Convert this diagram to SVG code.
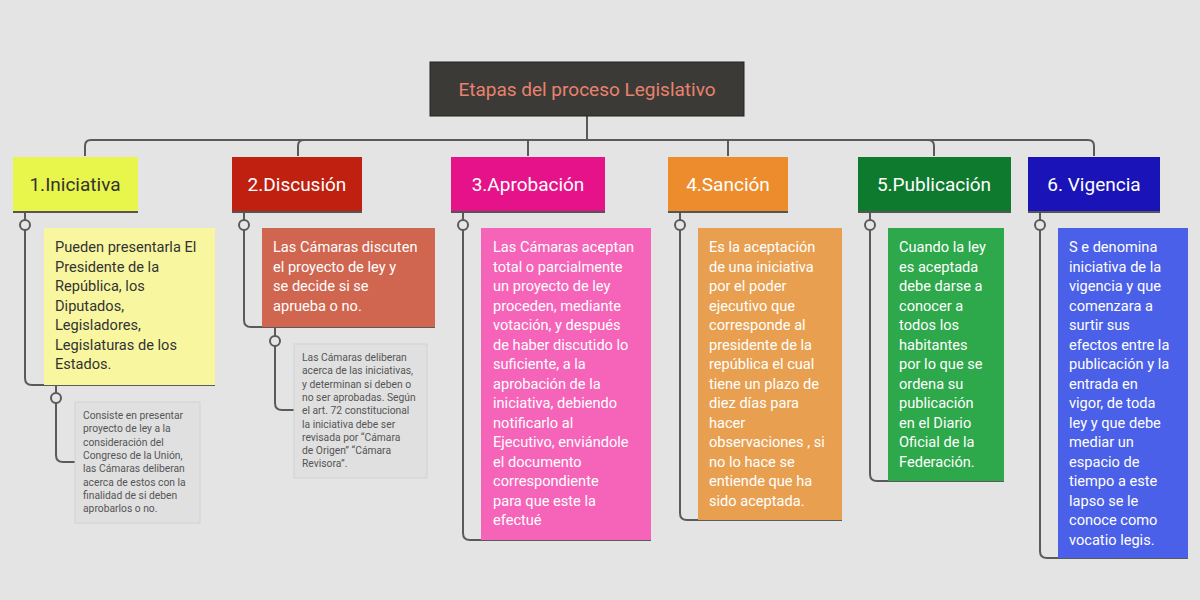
<svg xmlns="http://www.w3.org/2000/svg" width="1200" height="600" viewBox="0 0 1200 600">
<defs>
<style>
.t{font-family:Roboto,"Open Sans","Liberation Sans",sans-serif}
.h{font-size:19px}
.b{font-size:14.6px}
.s{font-size:10.3px;fill:#555}
.ln{fill:none;stroke:#5a5a5a;stroke-width:2}
.c{fill:#e6e6e6;stroke:#5a5a5a;stroke-width:2}
.sh{stroke:#555;stroke-width:2}
</style>
</defs>
<rect width="1200" height="600" fill="#e4e4e4"/>
<g id="connectors">
<path class="ln" d="M587 116V140M85 156V146Q85 140 91 140H1088Q1094 140 1094 146V156M298 156V146Q298 140 304 140M528 156V140M728 156V140M934 156V146Q934 140 928 140"/>
<path class="ln" d="M25 212V378Q25 385 32 385H215"/>
<path class="ln" d="M56 385V455Q56 462 63 462H75"/>
<path class="ln" d="M244 212V320Q244 327 251 327H435"/>
<path class="ln" d="M275 327V403Q275 410 282 410H294"/>
<path class="ln" d="M463 212V533Q463 540 470 540H651"/>
<path class="ln" d="M680 212V513Q680 520 687 520H842"/>
<path class="ln" d="M870 212V474Q870 481 877 481H1004"/>
<path class="ln" d="M1040 212V551Q1040 558 1047 558H1188"/>
<circle class="c" cx="25" cy="225" r="5"/><circle class="c" cx="56" cy="398" r="5"/>
<circle class="c" cx="244" cy="225" r="5"/><circle class="c" cx="275" cy="341" r="5"/>
<circle class="c" cx="463" cy="225" r="5"/><circle class="c" cx="680" cy="225" r="5"/>
<circle class="c" cx="870" cy="225" r="5"/><circle class="c" cx="1040" cy="225" r="5"/>
</g>
<g id="title"><rect x="430" y="62" width="314" height="54" fill="#3b3a36" stroke="#222" stroke-width="1"/>
<text class="t" x="587" y="96" text-anchor="middle" font-size="19" fill="#e8826f">Etapas del proceso Legislativo</text></g>
<g id="n1"><rect x="13" y="157" width="125" height="55" fill="#e8f54a"/><line class="sh" x1="13" y1="212" x2="138" y2="212"/>
<text class="t h" x="75" y="191" text-anchor="middle" fill="#333">1.Iniciativa</text></g>
<g id="n2"><rect x="232" y="157" width="130" height="55" fill="#c0200f"/><line class="sh" x1="232" y1="212" x2="362" y2="212"/>
<text class="t h" x="297" y="191" text-anchor="middle" fill="#fff">2.Discusión</text></g>
<g id="n3"><rect x="451" y="157" width="154" height="55" fill="#e6128a"/><line class="sh" x1="451" y1="212" x2="605" y2="212"/>
<text class="t h" x="528" y="191" text-anchor="middle" fill="#fff">3.Aprobación</text></g>
<g id="n4"><rect x="668" y="157" width="120" height="55" fill="#ec8c2c"/><line class="sh" x1="668" y1="212" x2="788" y2="212"/>
<text class="t h" x="728" y="191" text-anchor="middle" fill="#fff">4.Sanción</text></g>
<g id="n5"><rect x="858" y="157" width="153" height="55" fill="#0e7a2e"/><line class="sh" x1="858" y1="212" x2="1011" y2="212"/>
<text class="t h" x="934" y="191" text-anchor="middle" fill="#fff">5.Publicación</text></g>
<g id="n6"><rect x="1028" y="157" width="132" height="55" fill="#1a14b8"/><line class="sh" x1="1028" y1="212" x2="1160" y2="212"/>
<text class="t h" x="1094" y="191" text-anchor="middle" fill="#fff">6. Vigencia</text></g>
<g id="d1"><rect x="44" y="228" width="171" height="157" fill="#f8f7a0"/>
<text class="t b" fill="#333"><tspan x="55" y="252">Pueden presentarla El</tspan><tspan x="55" y="272">Presidente de   la</tspan><tspan x="55" y="291">República, los</tspan><tspan x="55" y="311">Diputados,</tspan><tspan x="55" y="330">Legisladores,</tspan><tspan x="55" y="350">Legislaturas de los</tspan><tspan x="55" y="369">Estados.</tspan></text></g>
<g id="d1s"><rect x="75" y="402" width="125" height="121" fill="#e0e0e0" stroke="#d2d2d2"/>
<text class="t s"><tspan x="83" y="419">Consiste en presentar</tspan><tspan x="83" y="432">proyecto   de ley a la</tspan><tspan x="83" y="446">consideración del</tspan><tspan x="83" y="459">Congreso de la Unión,</tspan><tspan x="83" y="472">las Cámaras deliberan</tspan><tspan x="83" y="486">acerca de estos con la</tspan><tspan x="83" y="499">finalidad de si deben</tspan><tspan x="83" y="512">aprobarlos o no.</tspan></text></g>
<g id="d2"><rect x="262" y="228" width="173" height="99" fill="#d06650"/>
<text class="t b" fill="#fff"><tspan x="273" y="252">Las Cámaras discuten</tspan><tspan x="273" y="272">el proyecto de   ley y</tspan><tspan x="273" y="291">se decide si se</tspan><tspan x="273" y="311">aprueba o no.</tspan></text></g>
<g id="d2s"><rect x="294" y="344" width="133" height="134" fill="#e0e0e0" stroke="#d2d2d2"/>
<text class="t s"><tspan x="302" y="361">Las Cámaras deliberan</tspan><tspan x="302" y="374">acerca de las iniciativas,</tspan><tspan x="302" y="388">y  determinan si deben o</tspan><tspan x="302" y="401">no ser aprobadas. Según</tspan><tspan x="302" y="414">el art. 72 constitucional</tspan><tspan x="302" y="428">la iniciativa debe ser</tspan><tspan x="302" y="441">revisada por  “Cámara</tspan><tspan x="302" y="454">de Origen”  “Cámara</tspan><tspan x="302" y="467">Revisora”.</tspan></text></g>
<g id="d3"><rect x="481" y="228" width="170" height="312" fill="#f564b8"/>
<text class="t b" fill="#fff"><tspan x="493" y="252">Las Cámaras aceptan</tspan><tspan x="493" y="272">total o parcialmente</tspan><tspan x="493" y="291">un proyecto de ley</tspan><tspan x="493" y="311">proceden, mediante</tspan><tspan x="493" y="330">votación, y después</tspan><tspan x="493" y="350">de haber discutido lo</tspan><tspan x="493" y="369">suficiente, a la</tspan><tspan x="493" y="389">aprobación de la</tspan><tspan x="493" y="408">iniciativa, debiendo</tspan><tspan x="493" y="428">notificarlo al</tspan><tspan x="493" y="447">Ejecutivo, enviándole</tspan><tspan x="493" y="467">el documento</tspan><tspan x="493" y="486">correspondiente</tspan><tspan x="493" y="506">para que este la</tspan><tspan x="493" y="525">efectué</tspan></text></g>
<g id="d4"><rect x="698" y="228" width="144" height="292" fill="#e8a050"/>
<text class="t b" fill="#fff"><tspan x="709" y="252">Es la aceptación</tspan><tspan x="709" y="272">de una iniciativa</tspan><tspan x="709" y="291">por el poder</tspan><tspan x="709" y="311">ejecutivo que</tspan><tspan x="709" y="330">corresponde al</tspan><tspan x="709" y="350">presidente de la</tspan><tspan x="709" y="369">república el cual</tspan><tspan x="709" y="389">tiene un plazo de</tspan><tspan x="709" y="408">diez días para</tspan><tspan x="709" y="428">hacer</tspan><tspan x="709" y="447">observaciones , si</tspan><tspan x="709" y="467">no lo hace se</tspan><tspan x="709" y="486">entiende que ha</tspan><tspan x="709" y="506">sido aceptada.</tspan></text></g>
<g id="d5"><rect x="888" y="228" width="116" height="253" fill="#2da84a"/>
<text class="t b" fill="#fff"><tspan x="899" y="252">Cuando la ley</tspan><tspan x="899" y="272">es aceptada</tspan><tspan x="899" y="291">debe darse a</tspan><tspan x="899" y="311">conocer a</tspan><tspan x="899" y="330">todos los</tspan><tspan x="899" y="350">habitantes</tspan><tspan x="899" y="369">por lo que se</tspan><tspan x="899" y="389">ordena su</tspan><tspan x="899" y="408">publicación</tspan><tspan x="899" y="428">en el Diario</tspan><tspan x="899" y="447">Oficial de la</tspan><tspan x="899" y="467">Federación.</tspan></text></g>
<g id="d6"><rect x="1058" y="228" width="130" height="330" fill="#4a60e8"/>
<text class="t b" fill="#fff"><tspan x="1069" y="252">S e denomina</tspan><tspan x="1069" y="272">iniciativa de la</tspan><tspan x="1069" y="291">vigencia y que</tspan><tspan x="1069" y="311">comenzara a</tspan><tspan x="1069" y="330">surtir sus</tspan><tspan x="1069" y="350">efectos entre la</tspan><tspan x="1069" y="369">publicación y la</tspan><tspan x="1069" y="389">entrada en</tspan><tspan x="1069" y="408">vigor, de toda</tspan><tspan x="1069" y="428">ley y que debe</tspan><tspan x="1069" y="447">mediar un</tspan><tspan x="1069" y="467">espacio de</tspan><tspan x="1069" y="486">tiempo a este</tspan><tspan x="1069" y="506">lapso se le</tspan><tspan x="1069" y="525">conoce como</tspan><tspan x="1069" y="545">vocatio legis.</tspan></text></g>
</svg>
